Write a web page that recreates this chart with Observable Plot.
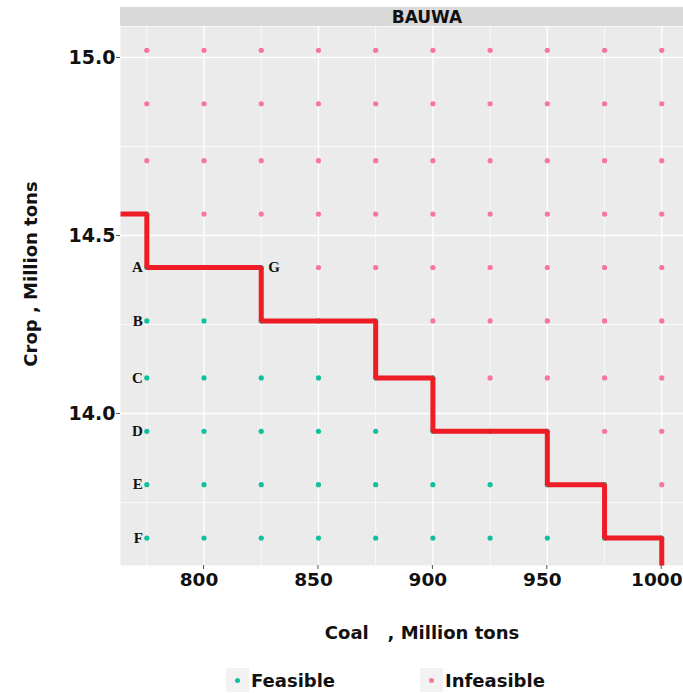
<!DOCTYPE html>
<html>
<head>
<meta charset="utf-8">
<script src="https://cdn.jsdelivr.net/npm/d3@7"></script>
<script src="https://cdn.jsdelivr.net/npm/@observablehq/plot@0.6"></script>
<style>
  html, body { margin: 0; padding: 0; background: #fff; }
  body { font-family: "DejaVu Sans", Verdana, sans-serif; width: 683px; }
  #chart { position: relative; width: 683px; height: 693px; }
  #chart svg { display: block; }
  .legend { position: absolute; top: 668px; left: 0; width: 683px; height: 25px; }
  .item { position: absolute; top: 0; display: flex; align-items: center; height: 24px; }
  .key { width: 23px; height: 24px; background: #f2f2f2; display: flex; align-items: center; justify-content: center; }
  .key span { width: 5px; height: 5px; border-radius: 50%; display: block; }
  .lab { font-weight: bold; font-size: 18px; margin-left: 2px; color: #111; }
</style>
</head>
<body>
<div id="chart"></div>
<script>
// Grid of scenarios: coal output (million tons) × crop output (million tons)
const coalLevels = [775, 800, 825, 850, 875, 900, 925, 950, 975, 1000];
const cropLevels = [13.65, 13.80, 13.95, 14.10, 14.26, 14.41, 14.56, 14.71, 14.87, 15.02];
// highest coal level that is still feasible at each crop level (null: none)
const feasibleUpTo = [1000, 975, 950, 900, 875, 825, 775, null, null, null];

// Production-possibility frontier (step corners)
const frontierCoal = [763.5, 775, 825, 875, 900, 950, 975, 1000];
const frontierCrop = [14.56, 14.41, 14.26, 14.10, 13.95, 13.80, 13.65, 13.573];

// Labelled scenarios
const labelText = ["A", "B", "C", "D", "E", "F", "G"];
const labelCoal = [775, 775, 775, 775, 775, 775, 825];
const labelCrop = [14.41, 14.26, 14.10, 13.95, 13.80, 13.65, 14.41];

const xTicks = [800, 850, 900, 950, 1000];
const xMinor = [775, 825, 875, 925, 975];
const yTicks = [14.0, 14.5, 15.0];
const yMinor = [13.75, 14.25, 14.75];

const statusNames = ["Feasible", "Infeasible"];
const statusColors = ["#14bf9f", "#f7769a"];
const facetName = "BAUWA";

const grid = [];
cropLevels.forEach((crop, i) => {
  coalLevels.forEach(coal => {
    const lim = feasibleUpTo[i];
    grid.push({coal, crop, status: lim != null && coal <= lim ? "Feasible" : "Infeasible"});
  });
});
const frontier = frontierCoal.map((c, i) => ({coal: c, crop: frontierCrop[i]}));
const labels = labelText.map((t, i) => ({t, coal: labelCoal[i], crop: labelCrop[i]}));
const leftLabels = labels.filter(d => d.t !== "G");
const rightLabels = labels.filter(d => d.t === "G");

const W = 683, H = 650;
const mL = 120, mR = 0, mT = 26, mB = 85;

const plot = Plot.plot({
  width: W, height: H,
  marginLeft: mL, marginRight: mR, marginTop: mT, marginBottom: mB,
  style: {fontFamily: "DejaVu Sans, Verdana, sans-serif", background: "white", color: "#111"},
  x: {domain: [763.5, 1009.5]},
  y: {domain: [13.573, 15.087]},
  color: {domain: statusNames, range: statusColors},
  marks: [
    Plot.frame({fill: "#ebebeb", stroke: null}),
    Plot.ruleX(xMinor, {stroke: "white", strokeWidth: 0.7}),
    Plot.ruleY(yMinor, {stroke: "white", strokeWidth: 0.7}),
    Plot.ruleX(xTicks, {stroke: "white", strokeWidth: 1.3}),
    Plot.ruleY(yTicks, {stroke: "white", strokeWidth: 1.3}),
    Plot.dot(grid, {x: "coal", y: "crop", fill: "status", r: 2.6, stroke: null}),
    Plot.line(frontier, {
      x: "coal", y: "crop", curve: "step-after",
      stroke: "#ee1c25", strokeWidth: 5, strokeLinejoin: "miter", strokeLinecap: "butt"
    }),
    Plot.text(leftLabels, {
      x: "coal", y: "crop", text: "t", textAnchor: "end", dx: -4,
      fontFamily: "Liberation Serif, serif", fontWeight: "bold", fontSize: 15, fill: "#111"
    }),
    Plot.text(rightLabels, {
      x: "coal", y: "crop", text: "t", textAnchor: "start", dx: 7,
      fontFamily: "Liberation Serif, serif", fontWeight: "bold", fontSize: 15, fill: "#111"
    }),
    // x labels nudged left so the last one stays inside the page
    Plot.axisX({
      ticks: xTicks, tickSize: 0, tickPadding: 7, label: null, dx: -5,
      fontSize: 18.5, fontWeight: "bold", tickFormat: d3.format("d")
    }),
    Plot.axisY({
      ticks: yTicks, tickSize: 4, tickPadding: 1, label: null, stroke: "#555",
      fontSize: 19, fontWeight: "bold", tickFormat: d3.format(".1f")
    })
  ]
});

// Bottom tick marks, facet strip, axis titles
const svg = d3.select(plot);
const x = plot.scale("x");
svg.append("g").selectAll("line").data(xTicks).join("line")
  .attr("x1", d => x.apply(d)).attr("x2", d => x.apply(d))
  .attr("y1", H - mB).attr("y2", H - mB + 4)
  .attr("stroke", "#555");
svg.append("rect")
  .attr("x", mL).attr("y", 7).attr("width", W - mL - mR).attr("height", mT - 7)
  .attr("fill", "#d9d9d9");
svg.append("text")
  .attr("x", 427).attr("y", 17).attr("text-anchor", "middle").attr("dominant-baseline", "central")
  .attr("font-weight", "bold").attr("font-size", 17).attr("fill", "#111")
  .text(facetName);
svg.append("text")
  .attr("x", 422).attr("y", 632).attr("text-anchor", "middle").attr("dominant-baseline", "central")
  .attr("font-weight", "bold").attr("font-size", 18).attr("fill", "#111")
  .text("Coal\u00a0\u00a0 , Million tons");
svg.append("text")
  .attr("transform", "translate(30,274) rotate(-90)")
  .attr("text-anchor", "middle").attr("dominant-baseline", "central")
  .attr("font-weight", "bold").attr("font-size", 18).attr("fill", "#111")
  .text("Crop , Million tons");

const chart = document.getElementById("chart");
chart.appendChild(plot);

// Legend below the plot
const legend = document.createElement("div");
legend.className = "legend";
const legendLeft = [226, 420];
statusNames.forEach((name, i) => {
  const item = document.createElement("div");
  item.className = "item";
  item.style.left = legendLeft[i] + "px";
  const key = document.createElement("div");
  key.className = "key";
  const dot = document.createElement("span");
  dot.style.background = statusColors[i];
  key.appendChild(dot);
  const lab = document.createElement("span");
  lab.className = "lab";
  lab.textContent = name;
  item.appendChild(key);
  item.appendChild(lab);
  legend.appendChild(item);
});
chart.appendChild(legend);
</script>
</body>
</html>
